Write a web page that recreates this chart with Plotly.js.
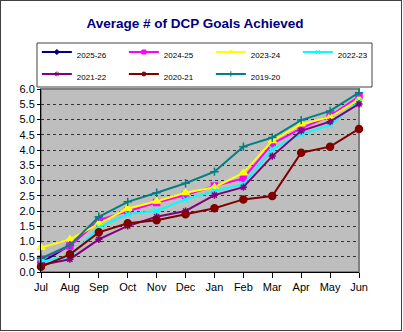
<!DOCTYPE html>
<html><head><meta charset="utf-8">
<script src="https://cdn.plot.ly/plotly-3.0.1.min.js"></script>
<style>
html,body{margin:0;padding:0;background:#fff;}
#wrap{position:absolute;left:0;top:0;width:400px;height:329px;border:1px solid #404040;}
#chart{width:400px;height:329px;}
</style></head>
<body><div id="wrap"><div id="chart"></div></div>
<script>
const months = ['Jul','Aug','Sep','Oct','Nov','Dec','Jan','Feb','Mar','Apr','May','Jun'];
const seriesNames = ['2025-26','2024-25','2023-24','2022-23','2021-22','2020-21','2019-20'];
const s2025_26 = [0.3, 0.88, 1.68, null, null, null, null, null, null, null, null, null];
const s2024_25 = [0.42, 0.85, 1.70, 2.0, 2.28, 2.52, 2.82, 3.07, 4.2, 4.71, 5.12, 5.75];
const s2023_24 = [0.80, 1.07, 1.58, 2.08, 2.32, 2.6, 2.78, 3.25, 4.3, 4.85, 5.08, 5.66];
const s2022_23 = [0.34, 0.50, 1.46, 1.90, 2.0, 2.38, 2.65, 2.88, 4.03, 4.52, 4.82, 5.6];
const s2021_22 = [0.23, 0.42, 1.07, 1.51, 1.81, 2.0, 2.52, 2.78, 3.8, 4.63, 4.93, 5.51];
const s2020_21 = [0.17, 0.58, 1.30, 1.60, 1.70, 1.89, 2.09, 2.38, 2.49, 3.91, 4.11, 4.69];
const s2019_20 = [0.45, 0.88, 1.81, 2.30, 2.60, 2.91, 3.29, 4.11, 4.41, 4.98, 5.28, 5.88];
const seriesValues = [s2025_26, s2024_25, s2023_24, s2022_23, s2021_22, s2020_21, s2019_20];

const colors = ['#000080','#FF00FF','#FFFF00','#00FFFF','#800080','#800000','#008080'];
const symbols = ['diamond','square','triangle-up','x-thin-open','asterisk-open','circle','cross-thin-open'];
const sizes = [5,6,7,6,6,7,6];

const traces = seriesNames.map((n,i)=>({
  type:'scatter', mode:'lines+markers', name:n, x:months, y:seriesValues[i],
  line:{color:colors[i], width:2},
  marker:{color:colors[i], symbol:symbols[i], size:sizes[i], line:{color:colors[i], width:1.5}},
  cliponaxis:false, connectgaps:false, showlegend:false
}));
// legend entries (small markers, like the reference legend)
const legendTraces = seriesNames.map((n,i)=>({
  type:'scatter', mode:'lines+markers', name:'<span style="font-size:8px">'+n+'</span>', x:[null], y:[null],
  line:{color:colors[i], width:2},
  marker:{color:colors[i], symbol:symbols[i], size:4, line:{color:colors[i], width:1}},
  showlegend:true
}));

const layout = {
  width:400, height:329,
  margin:{l:40, r:42, t:88, b:58},
  paper_bgcolor:'#ffffff', plot_bgcolor:'#bebebe',
  font:{family:'Liberation Sans, Arial, sans-serif', color:'#000'},
  title:{text:'<b>Average # of DCP Goals Achieved</b>', font:{size:13.5, color:'#000080', family:'Liberation Sans, Arial, sans-serif'},
    xref:'container', yref:'container', x:0.485, xanchor:'center', y:1-22/329, yanchor:'middle'},
  showlegend:true,
  legend:{orientation:'h', x:-0.013, xanchor:'left', y:1+53/183, yanchor:'top',
    entrywidth:42, entrywidthmode:'pixels',
    borderwidth:0, bgcolor:'rgba(0,0,0,0)',
    font:{size:14.6, color:'#000'}, itemwidth:30},
  xaxis:{type:'category', range:[0,11], showgrid:false, zeroline:false,
    showline:true, linecolor:'#000', linewidth:1,
    ticks:'outside', ticklen:5, tickcolor:'#000', tickwidth:1,
    tickfont:{size:11}, fixedrange:true},
  yaxis:{range:[0,6], dtick:0.5, tickformat:'.1f', showgrid:true,
    gridcolor:'#333', gridwidth:1, griddash:'dot', zeroline:false,
    showline:true, linecolor:'#000', linewidth:1,
    ticks:'outside', ticklen:3, tickcolor:'#000',
    tickfont:{size:11}, fixedrange:true},
  shapes:[
    {type:'rect', xref:'paper', yref:'paper', x0:0, x1:1, y0:0, y1:1,
      line:{color:'#808080', width:2}, layer:'below'},
    {type:'rect', xref:'paper', yref:'paper', x0:-4/318, x1:331/318, y0:1+2/183, y1:1+46/183,
      line:{color:'#404040', width:1}, fillcolor:'#ffffff', layer:'above'}
  ]
};
Plotly.newPlot('chart', traces.concat(legendTraces), layout, {displayModeBar:false, staticPlot:true});
</script></body></html>
